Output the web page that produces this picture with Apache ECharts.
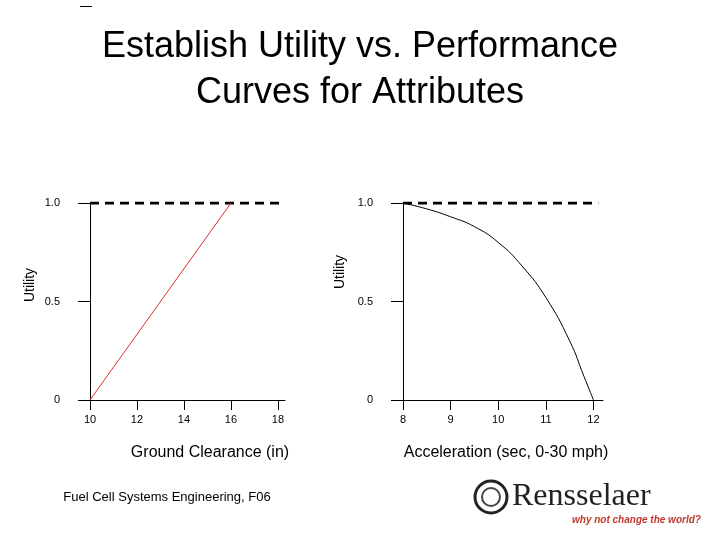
<!DOCTYPE html>
<html>
<head>
<meta charset="utf-8">
<script src="https://cdn.jsdelivr.net/npm/echarts@6/dist/echarts.min.js"></script>
</head>
<body style="margin:0">
<div id="main" style="width:720px;height:540px;"></div>
<script>
var yTicks = ['0', '0.5', '1.0'];
var clearanceLine = [[10, 0], [16, 1]];
var clearanceFlat = [[10, 1], [18.1, 1]];
var accelCurve = [[8, 1], [8.5, 0.97], [9, 0.93], [9.5, 0.88], [10, 0.8], [10.5, 0.68], [11, 0.52], [11.5, 0.3], [11.8, 0.12], [12, 0]];
var accelFlat = [[8, 1], [12.1, 1]];

var chart = echarts.init(document.getElementById('main'));
var font = 'Arial, Liberation Sans, sans-serif';

function yAxis(i) {
    return {
        gridIndex: i, type: 'value', min: 0, max: 1, interval: 0.5,
        splitLine: {show: false},
        axisLine: {show: true, lineStyle: {color: '#000'}},
        axisTick: {show: true, length: 12, lineStyle: {color: '#000'}},
        axisLabel: {margin: 30, color: '#000', fontSize: 11, fontFamily: font,
            formatter: function (v) { return yTicks[Math.round(v * 2)]; }}
    };
}
function xAxis(i, min, max, step) {
    return {
        gridIndex: i, type: 'value', min: min, max: max, interval: step,
        splitLine: {show: false},
        axisLine: {show: true, lineStyle: {color: '#000'}},
        axisTick: {show: true, length: 10, lineStyle: {color: '#000'}},
        axisLabel: {margin: 14, color: '#000', fontSize: 11, fontFamily: font,
            showMaxLabel: false}
    };
}

chart.setOption({
    animation: false,
    backgroundColor: '#fff',
    grid: [
        {left: 90, top: 203, width: 195, height: 197},
        {left: 403, top: 203, width: 200, height: 197}
    ],
    xAxis: [xAxis(0, 10, 18.3, 2), xAxis(1, 8, 12.2, 1)],
    yAxis: [yAxis(0), yAxis(1)],
    series: [
        {type: 'line', xAxisIndex: 0, yAxisIndex: 0, data: clearanceFlat, symbol: 'none',
            lineStyle: {color: '#000', width: 3, type: [9, 6]}},
        {type: 'line', xAxisIndex: 0, yAxisIndex: 0, data: clearanceLine, symbol: 'none',
            lineStyle: {color: '#e03030', width: 1}},
        {type: 'line', xAxisIndex: 1, yAxisIndex: 1, data: accelFlat, symbol: 'none',
            lineStyle: {color: '#000', width: 3, type: [9, 6]}},
        {type: 'line', xAxisIndex: 1, yAxisIndex: 1, data: accelCurve, symbol: 'none', smooth: true,
            lineStyle: {color: '#000', width: 1}}
    ],
    graphic: [
        {type: 'rect', shape: {x: 80, y: 6, width: 12, height: 1}, style: {fill: '#000'}},
        {type: 'text', x: 360, y: 24, style: {text: 'Establish Utility vs. Performance\nCurves for Attributes',
            font: '36px ' + font, fill: '#000', align: 'center', lineHeight: 46}},
        {type: 'text', x: 30, y: 285, rotation: Math.PI / 2, style: {text: 'Utility',
            font: '14px ' + font, fill: '#000', align: 'center', verticalAlign: 'middle'}},
        {type: 'text', x: 340, y: 272, rotation: Math.PI / 2, style: {text: 'Utility',
            font: '14px ' + font, fill: '#000', align: 'center', verticalAlign: 'middle'}},
        {type: 'text', x: 210, y: 453, style: {text: 'Ground Clearance (in)',
            font: '16px ' + font, fill: '#000', align: 'center', verticalAlign: 'middle'}},
        {type: 'text', x: 506, y: 453, style: {text: 'Acceleration (sec, 0-30 mph)',
            font: '16px ' + font, fill: '#000', align: 'center', verticalAlign: 'middle'}},
        {type: 'text', x: 167, y: 497, style: {text: 'Fuel Cell Systems Engineering, F06',
            font: '13px ' + font, fill: '#000', align: 'center', verticalAlign: 'middle'}},
        {type: 'circle', shape: {cx: 491, cy: 497, r: 16}, style: {fill: '#fff', stroke: '#222', lineWidth: 3}},
        {type: 'circle', shape: {cx: 491, cy: 497, r: 9}, style: {fill: '#fff', stroke: '#444', lineWidth: 2}},
        {type: 'text', x: 512, y: 497, style: {text: 'Rensselaer',
            font: '32px "Liberation Serif", "DejaVu Serif", serif', fill: '#222', verticalAlign: 'middle'}},
        {type: 'text', x: 572, y: 520, style: {text: 'why not change the world?',
            font: 'italic bold 10px ' + font, fill: '#c0392b', verticalAlign: 'middle'}}
    ]
});
</script>
</body>
</html>
